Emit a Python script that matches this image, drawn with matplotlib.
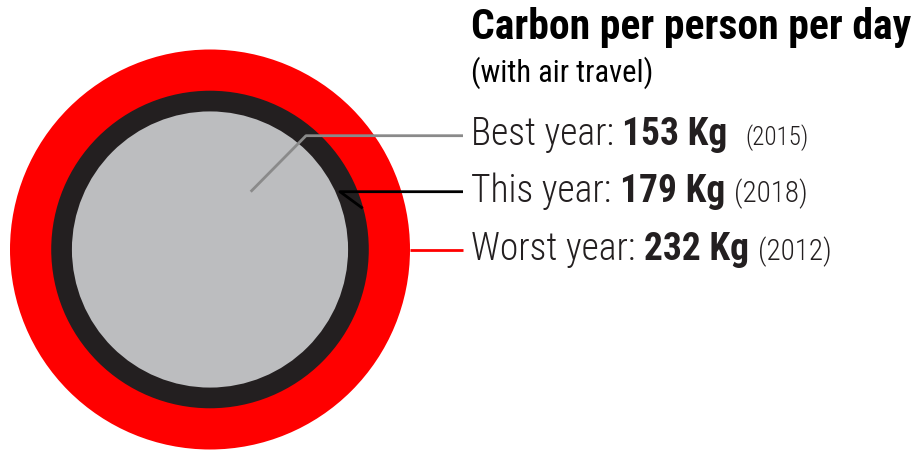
import matplotlib
matplotlib.use("Agg")
import matplotlib.pyplot as plt
from matplotlib.patches import Circle
from matplotlib import font_manager as fm

# ---- data ----
labels = ["Best year", "This year", "Worst year"]
values = [153, 179, 232]          # kg CO2 per person per day
years = [2015, 2018, 2012]
title = "Carbon per person per day"
subtitle = "(with air travel)"

# ---- styles ----
fill_colors = ["#BCBDBF", "#231F20", "#FF0000"]
leader_colors = ["#8A8A8A", "#000000", "#FF0000"]
text_color = "#231F20"

names = {f.name for f in fm.fontManager.ttflist}
cands = ["Roboto Condensed", "Liberation Sans Narrow", "DejaVu Sans Condensed",
         "Open Sans Condensed", "Noto Sans Condensed", "Arial Narrow"]
family = next((c for c in cands if c in names), "Liberation Sans")

W, H = 916, 450
fig = plt.figure(figsize=(W / 100, H / 100), dpi=100)
ax = fig.add_axes([0, 0, 1, 1])
ax.set_xlim(0, W)
ax.set_ylim(H, 0)
ax.set_aspect("equal")
ax.axis("off")

cx, cy = 210, 249.5
r_max = 200
vmax = max(values)
radii = [r_max * (v / vmax) ** 0.89 for v in values]

order = sorted(range(len(values)), key=lambda i: -values[i])
for i in order:
    ax.add_patch(Circle((cx, cy), radii[i], facecolor=fill_colors[i],
                        edgecolor="none", zorder=1 + (vmax - values[i]) / 1000))

x_end = 463
# leader lines (annotation geometry)
ax.plot([cx + 40.7, cx + 96, x_end], [cy - 57.8, cy - 113.8, cy - 113.8],
        color=leader_colors[0], lw=2, zorder=5, solid_capstyle="butt")
ax.plot([cx + 152.7, cx + 130, x_end], [cy - 41.2, cy - 57.8, cy - 57.8],
        color=leader_colors[1], lw=2, zorder=5, solid_capstyle="butt")
ax.plot([cx + radii[2], x_end], [cy, cy],
        color=leader_colors[2], lw=2, zorder=5, solid_capstyle="butt")

tx = 471
ax.text(tx, 39, title, family=family, fontsize=30, fontweight="bold",
        color="black", va="baseline", ha="left")
ax.text(tx, 82, subtitle, family=family, fontsize=22, color="black",
        va="baseline", ha="left")

fig.canvas.draw()
renderer = fig.canvas.get_renderer()

baselines = [145, 202, 260]
year_sizes = [18, 21, 21]
for i in range(len(labels)):
    segs = [(labels[i] + ": ", 27, "light"),
            (f"{values[i]} Kg" + ("  " if i == 0 else " "), 27, "bold"),
            (f"({years[i]})", year_sizes[i], "light")]
    x = tx
    for s, fs, wt in segs:
        t = ax.text(x, baselines[i], s, family=family, fontsize=fs,
                    fontweight=wt, color=text_color, va="baseline", ha="left")
        bb = t.get_window_extent(renderer)
        x = bb.x1

fig.savefig("out.png", dpi=100)
